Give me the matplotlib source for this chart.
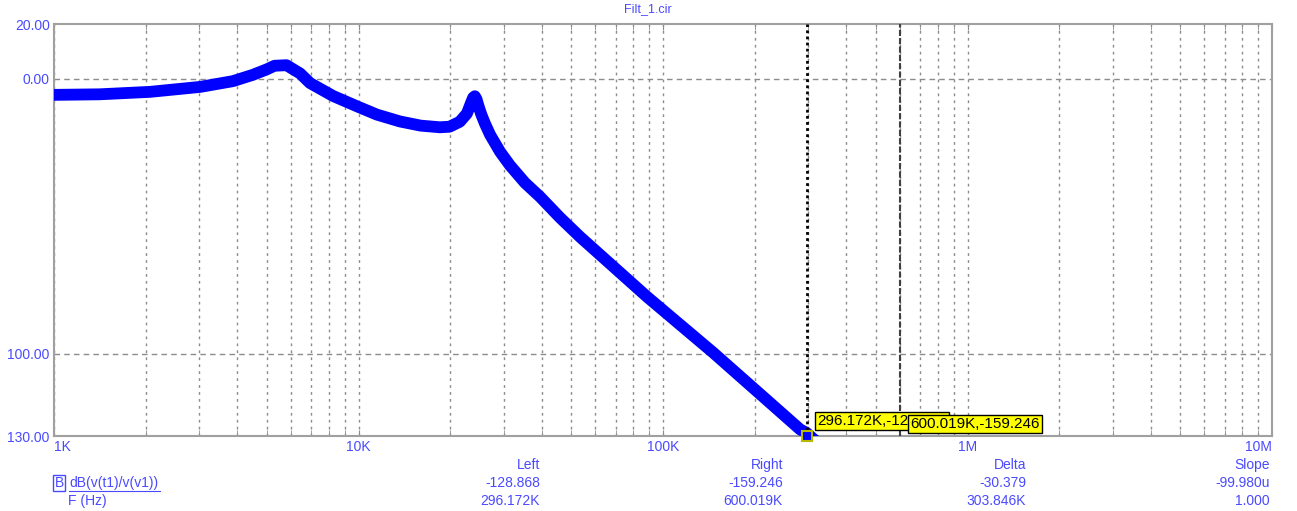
import matplotlib
matplotlib.use("Agg")
import matplotlib.pyplot as plt
import matplotlib.ticker as mticker
from matplotlib.lines import Line2D
import numpy as np

# curve (frequency in Hz, gain in dB)
freq = [1e3, 1.41e3, 2.07e3, 3.02e3, 3.87e3, 4.5e3, 5.0e3, 5.3e3, 5.8e3, 6.43e3,
        6.93e3, 8.25e3, 10.0e3, 11.5e3, 13.7e3, 16.0e3, 18.5e3, 19.9e3, 21.5e3,
        22.7e3, 23.4e3, 23.8e3, 24.1e3, 24.4e3, 24.8e3, 25.3e3, 26.03e3, 27.04e3,
        29.16e3, 31.45e3, 35.2e3, 39.45e3, 45.9e3, 53.4e3, 88.6e3, 146e3, 282e3,
        296.172e3, 600.019e3]
gain = [-5.8, -5.6, -4.7, -2.9, -0.8, 1.5, 3.5, 4.8, 5.0, 2.0,
        -1.5, -6.2, -10.2, -13.0, -15.5, -17.0, -17.6, -17.4, -15.6,
        -12.6, -8.8, -6.8, -6.3, -7.3, -10.0, -12.9, -16.3, -20.3,
        -26.5, -31.5, -37.8, -42.9, -50.5, -57.5, -79.3, -99.6, -127.6,
        -128.868, -159.246]

title = "Filt_1.cir"
y_ticks = [20, 0, -100, -130]
y_labels = ["20.00", "0.00", "100.00", "130.00"]
x_ticks = [1e3, 1e4, 1e5, 1e6, 1e7]
x_labels = ["1K", "10K", "100K", "1M", "10M"]

left_f, left_v = 296.172e3, -128.868
right_f, right_v = 600.019e3, -159.246
col_heads = ["Left", "Right", "Delta", "Slope"]
row_y = ["-128.868", "-159.246", "-30.379", "-99.980u"]
row_x = ["296.172K", "600.019K", "303.846K", "1.000"]

W, H = 1297, 511
txt = "#4a4aff"
gridc = "#8c8c8c"
plt.rcParams["font.family"] = ["Liberation Sans", "DejaVu Sans"]

fig = plt.figure(figsize=(W / 100, H / 100), dpi=100)
ax = fig.add_axes([54 / W, 1 - 436 / H, (1272 - 54) / W, (436 - 24) / H])

ax.semilogx(freq, gain, color="#0000ff", lw=8.5, solid_capstyle="round",
            solid_joinstyle="round", zorder=3)
ax.set_xlim(1e3, 1e7)
ax.set_ylim(-130, 20)

# grid
ax.xaxis.set_major_locator(mticker.FixedLocator(x_ticks))
ax.xaxis.set_minor_locator(mticker.LogLocator(base=10, subs=np.arange(2, 10)))
ax.xaxis.set_minor_formatter(mticker.NullFormatter())
ax.xaxis.set_major_formatter(mticker.FixedFormatter(x_labels))
ax.yaxis.set_major_locator(mticker.FixedLocator(y_ticks))
ax.yaxis.set_major_formatter(mticker.FixedFormatter(y_labels))
ax.grid(True, axis="x", which="both", color=gridc, lw=1.0, ls=(0, (2, 3)))
for yv in [0, -100]:
    ax.axhline(yv, color=gridc, lw=1.0, ls=(0, (4, 3)), zorder=1)

ax.tick_params(axis="x", which="both", direction="in", length=4, color=gridc,
               top=True, labelsize=10, labelcolor=txt, pad=3)
ax.tick_params(axis="y", length=0, labelsize=10, labelcolor=txt, pad=3)
xl = ax.get_xticklabels()
xl[0].set_ha("left")
xl[-1].set_ha("right")
for s in ax.spines.values():
    s.set_color("#a0a0a0")
    s.set_linewidth(1.5)

# cursors
ax.axvline(left_f, color="black", lw=2.0, ls=(0, (1, 1.2)), zorder=4)
ax.axvline(right_f, color="#404040", lw=1.5, ls=(0, (3, 1)), zorder=4)
ax.plot([left_f], [-130], marker="s", ms=7, mfc="#0000ff", mec="#b8b800",
        mew=1.5, clip_on=False, zorder=6)
ax.annotate("296.172K,-128.868", xy=(left_f, -130), xytext=(11, 15),
            textcoords="offset pixels", annotation_clip=False, fontsize=11,
            va="center", ha="left", zorder=7,
            bbox=dict(boxstyle="square,pad=0.15", fc="#ffff00", ec="black", lw=1))
ax.annotate("600.019K,-159.246", xy=(right_f, -130), xytext=(10, 12),
            textcoords="offset pixels", annotation_clip=False, fontsize=11,
            va="center", ha="left", zorder=8,
            bbox=dict(boxstyle="square,pad=0.15", fc="#ffff00", ec="black", lw=1))

fig.text(648 / W, 1 - 9 / H, title, color=txt, fontsize=9, ha="center", va="center")

# readout table
cols = [540, 783, 1026, 1270]
for i, cx in enumerate(cols):
    fig.text(cx / W, 1 - 465 / H, col_heads[i], color=txt, fontsize=10, ha="right", va="center")
    fig.text(cx / W, 1 - 483 / H, row_y[i], color=txt, fontsize=10, ha="right", va="center")
    fig.text(cx / W, 1 - 501 / H, row_x[i], color=txt, fontsize=10, ha="right", va="center")

fig.text(59 / W, 1 - 483 / H, "B", color=txt, fontsize=10, ha="center", va="center",
         bbox=dict(boxstyle="square,pad=0.1", fc="none", ec=txt, lw=1))
fig.text(69 / W, 1 - 483 / H, "dB(v(t1)/v(v1))", color=txt, fontsize=10, ha="left", va="center")
fig.add_artist(Line2D([69 / W, 160 / W], [1 - 491 / H, 1 - 491 / H], color=txt, lw=0.8))
fig.text(68 / W, 1 - 501 / H, "F (Hz)", color=txt, fontsize=10, ha="left", va="center")

fig.savefig("out.png", dpi=100, facecolor="white")
